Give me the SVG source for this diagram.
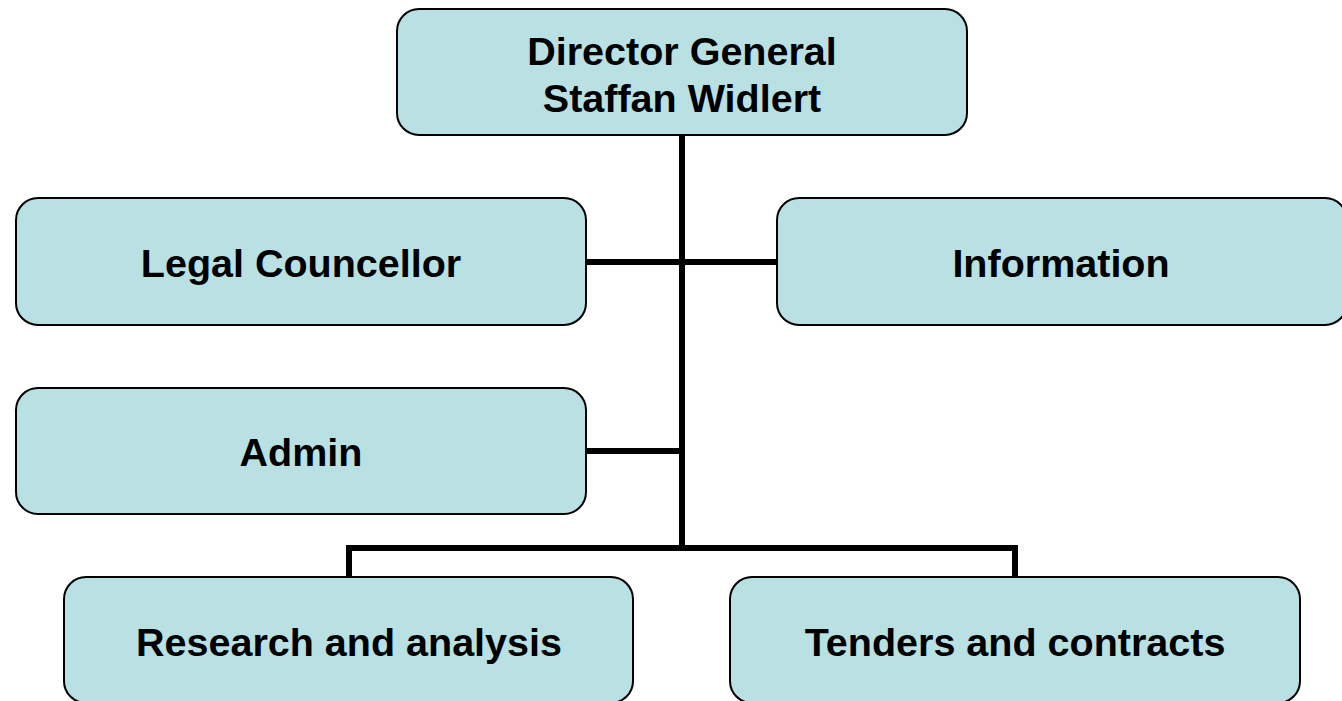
<svg xmlns="http://www.w3.org/2000/svg" width="1342" height="701" viewBox="0 0 1342 701">
<style>
.box{fill:#b9e0e3;stroke:#000;stroke-width:2}
.t{font-family:"Liberation Sans",Arial,sans-serif;font-weight:bold;font-size:39.5px;fill:#000;text-anchor:middle}
.c{stroke:#000;stroke-width:6;fill:none}
</style>
<rect width="1342" height="701" fill="#fff"/>
<g id="connectors">
<line class="c" x1="682" y1="135" x2="682" y2="551"/>
<line class="c" x1="586" y1="262" x2="777" y2="262"/>
<line class="c" x1="586" y1="451" x2="682" y2="451"/>
<polyline class="c" points="349,577 349,548 1015,548 1015,577"/>
</g>
<g id="director"><rect class="box" x="397" y="9" width="570" height="126" rx="22"/><text class="t" x="682" y="65">Director General</text><text class="t" x="682" y="112">Staffan Widlert</text></g>
<g id="legal"><rect class="box" x="16" y="198" width="570" height="127" rx="22"/><text class="t" x="301" y="277">Legal Councellor</text></g>
<g id="information"><rect class="box" x="777" y="198" width="570" height="127" rx="22"/><text class="t" x="1061" y="277">Information</text></g>
<g id="admin"><rect class="box" x="16" y="388" width="570" height="126" rx="22"/><text class="t" x="301" y="466">Admin</text></g>
<g id="research"><rect class="box" x="64" y="577" width="569" height="126" rx="22"/><text class="t" x="349" y="656">Research and analysis</text></g>
<g id="tenders"><rect class="box" x="730" y="577" width="570" height="126" rx="22"/><text class="t" x="1015" y="656">Tenders and contracts</text></g>
</svg>
